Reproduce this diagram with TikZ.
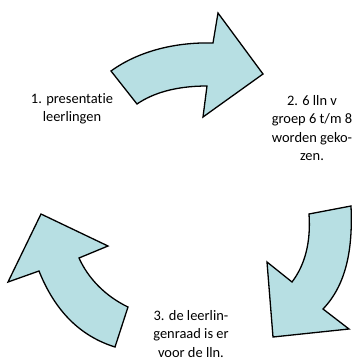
\documentclass[tikz,border=0pt]{standalone}
\usepackage{fontspec}
\setmainfont[Ligatures=NoCommon]{Carlito}
\definecolor{arrowfill}{RGB}{183,223,227}
\begin{document}
\begin{tikzpicture}[x=1bp,y=-1bp,
  bigarrow/.style={draw=black,line width=1.3bp,fill=arrowfill,line join=miter},
  lbl/.style={align=center,font=\fontsize{14.5}{18.5}\selectfont,inner sep=0pt}]
\useasboundingbox (0,0) rectangle (361,363);
% top arrow
\draw[bigarrow] (111,71) .. controls (140,50) and (178,42) .. (213,43)
  -- (218,13) -- (263,74) -- (203,117) -- (207,86)
  .. controls (176,86) and (153,93) .. (137,104) -- cycle;
% right arrow
\draw[bigarrow] (309,214) -- (351,206)
  .. controls (353,250) and (346,285) .. (323,309)
  -- (349,329) -- (273,337) -- (267,262) -- (292,282)
  .. controls (305,265) and (311,242) .. (309,214) -- cycle;
% left arrow
\draw[bigarrow] (115,347) -- (128,307)
  .. controls (105,296) and (88,278) .. (79,258)
  -- (108,246) -- (41,214) -- (8,282) -- (39,271)
  .. controls (55,311) and (80,336) .. (115,347) -- cycle;
\node[lbl] (t1) at (72,109) {1. presentatie\\leerlingen};
\node[lbl] (t2) at (312,128) {2. 6 lln v\\groep 6 t/m 8\\worden geko-\\zen.};
\node[lbl] (t3) at (191,334) {3. de leerlin-\\genraad is er\\voor de lln.};
\end{tikzpicture}
\end{document}
